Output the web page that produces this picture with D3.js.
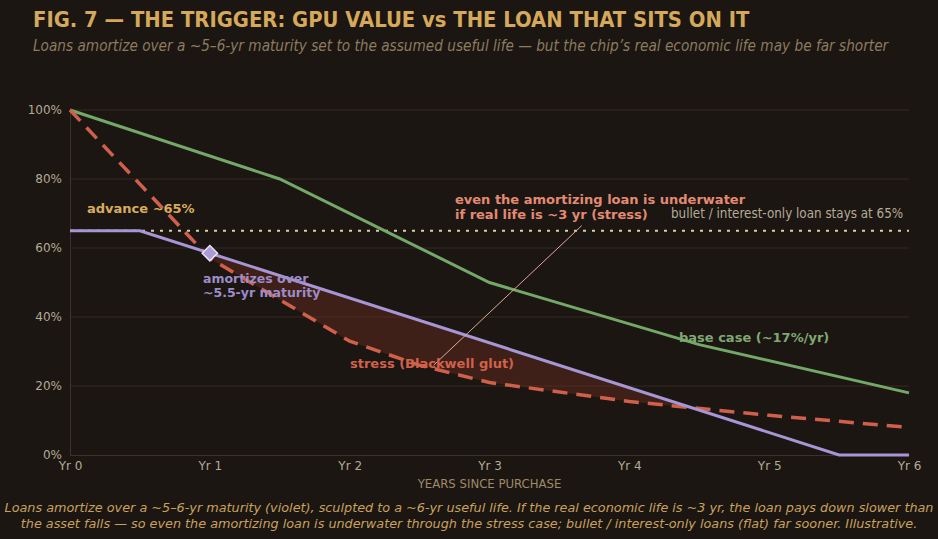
<!DOCTYPE html>
<html>
<head>
<meta charset="utf-8">
<script src="https://cdn.jsdelivr.net/npm/d3@7"></script>
<style>
  html, body { margin: 0; padding: 0; background: #1b1612; }
  svg { display: block; }
</style>
</head>
<body>
<script>
// Data (years since purchase, % of original value)
const baseYears = [0, 1.5, 3, 4.5, 6];
const baseValues = [100, 80, 50, 32, 18];

const stressYears = [0, 1, 2, 2.5, 3, 4, 5, 6];
const stressValues = [100, 57, 33, 26, 21, 15.5, 11.5, 8];

const loanYears = [0, 0.5, 5.5, 6];
const loanValues = [65, 65, 0, 0];

const advanceLevel = 65;
const markerPoint = [1, 58.5];

const xTicks = [0, 1, 2, 3, 4, 5, 6];
const xTickLabels = ["Yr 0", "Yr 1", "Yr 2", "Yr 3", "Yr 4", "Yr 5", "Yr 6"];
const yTicks = [0, 20, 40, 60, 80, 100];

// Annotation pointer (from text to the stress curve)
const pointerFrom = [3.66, 66.5];
const pointerTo = [2.6, 26];

const width = 938;
const height = 539;
const paddingTop = 110;
const paddingRight = 29;
const paddingBottom = 84;
const paddingLeft = 70;

const condensed = "'DejaVu Sans Condensed', 'DejaVu Sans', sans-serif";
const regular = "'DejaVu Sans', sans-serif";

const svg = d3.select("body").append("svg")
    .attr("width", width)
    .attr("height", height)
    .attr("viewBox", [0, 0, width, height]);

svg.append("rect").attr("width", width).attr("height", height).attr("fill", "#1b1612");

const xScale = d3.scaleLinear().domain([0, 6]).range([paddingLeft, width - paddingRight]);
const yScale = d3.scaleLinear().domain([0, 100]).range([height - paddingBottom, paddingTop]);

// Gridlines
svg.append("g")
    .selectAll("line")
    .data(yTicks.filter(d => d > 0))
    .join("line")
    .attr("x1", xScale(0)).attr("x2", xScale(6))
    .attr("y1", d => yScale(d)).attr("y2", d => yScale(d))
    .attr("stroke", "#35281f")
    .attr("stroke-width", 1);

// Axes
const xAxis = d3.axisBottom(xScale).tickValues(xTicks).tickFormat((d, i) => xTickLabels[i]).tickSize(0).tickPadding(6);
const yAxis = d3.axisLeft(yScale).tickValues(yTicks).tickFormat(d => d + "%").tickSize(0).tickPadding(8);

const xAxisRef = svg.append("g")
    .attr("transform", `translate(0, ${yScale(0)})`)
    .call(xAxis);
const yAxisRef = svg.append("g")
    .attr("transform", `translate(${xScale(0)}, 0)`)
    .call(yAxis);

[xAxisRef, yAxisRef].forEach(g => {
    g.select(".domain").attr("stroke", "#3a322b").attr("stroke-width", 1);
    g.selectAll(".tick text")
        .attr("fill", "#b5aa96")
        .style("font-family", regular)
        .style("font-size", "12px");
});

svg.append("text")
    .attr("x", xScale(3)).attr("y", 488)
    .attr("text-anchor", "middle")
    .attr("fill", "#a08a68")
    .style("font-family", condensed)
    .style("font-size", "13px")
    .text("YEARS SINCE PURCHASE");

// Series as point arrays
const basePts = baseYears.map((y, i) => [y, baseValues[i]]);
const stressPts = stressYears.map((y, i) => [y, stressValues[i]]);
const loanPts = loanYears.map((y, i) => [y, loanValues[i]]);

const interp = (pts, x) => {
    for (let i = 1; i < pts.length; i++) {
        if (x <= pts[i][0]) {
            const t = (x - pts[i - 1][0]) / (pts[i][0] - pts[i - 1][0]);
            return pts[i - 1][1] + t * (pts[i][1] - pts[i - 1][1]);
        }
    }
    return pts[pts.length - 1][1];
};

// Shaded gap where the loan sits above the stressed value
const gapXs = Array.from(new Set([...stressYears, ...loanYears])).sort((a, b) => a - b);
const fine = [];
for (let i = 1; i < gapXs.length; i++) {
    for (let k = 0; k < 20; k++) fine.push(gapXs[i - 1] + (gapXs[i] - gapXs[i - 1]) * k / 20);
}
fine.push(6);
const area = d3.area()
    .defined(x => interp(loanPts, x) >= interp(stressPts, x))
    .x(x => xScale(x))
    .y0(x => yScale(interp(stressPts, x)))
    .y1(x => yScale(interp(loanPts, x)));
svg.append("path")
    .attr("d", area(fine))
    .attr("fill", "#6a2c22")
    .attr("opacity", 0.45);

const line = d3.line()
    .x(p => xScale(p[0]))
    .y(p => yScale(p[1]));

// Bullet / interest-only level
svg.append("line")
    .attr("x1", xScale(0)).attr("x2", xScale(6))
    .attr("y1", yScale(advanceLevel)).attr("y2", yScale(advanceLevel))
    .attr("stroke", "#d8cfa2")
    .attr("stroke-width", 2)
    .attr("stroke-dasharray", "3,6");

svg.append("path")
    .attr("d", line(basePts))
    .attr("fill", "none")
    .attr("stroke", "#74a868")
    .attr("stroke-width", 3);

svg.append("path")
    .attr("d", line(stressPts))
    .attr("fill", "none")
    .attr("stroke", "#d0604c")
    .attr("stroke-width", 3.5)
    .attr("stroke-dasharray", "15,9");

svg.append("path")
    .attr("d", line(loanPts))
    .attr("fill", "none")
    .attr("stroke", "#a796d6")
    .attr("stroke-width", 3);

svg.append("path")
    .attr("d", d3.symbol(d3.symbolDiamond2, 150)())
    .attr("transform", `translate(${xScale(markerPoint[0])}, ${yScale(markerPoint[1])})`)
    .attr("fill", "#a99cd6")
    .attr("stroke", "#e8e4f4")
    .attr("stroke-width", 1.5);

// Pointer line
svg.append("line")
    .attr("x1", xScale(pointerFrom[0])).attr("y1", yScale(pointerFrom[1]))
    .attr("x2", xScale(pointerTo[0])).attr("y2", yScale(pointerTo[1]))
    .attr("stroke", "#e0a896")
    .attr("stroke-width", 1);

// Labels
function label(x, y, lines, color, opts = {}) {
    const t = svg.append("text")
        .attr("x", x).attr("y", y)
        .attr("fill", color)
        .attr("text-anchor", opts.anchor || "start")
        .style("font-family", opts.family || regular)
        .style("font-size", (opts.size || 13) + "px")
        .style("font-weight", opts.weight || "bold")
        .style("font-style", opts.style || "normal");
    lines.forEach((s, i) => {
        t.append("tspan").attr("x", x).attr("dy", i === 0 ? 0 : (opts.lh || 15)).text(s);
    });
    return t;
}

label(87, 213, ["advance ~65%"], "#d9ac5c", {size: 13});
label(203, 283, ["amortizes over", "~5.5-yr maturity"], "#9d8cc8", {size: 12.5, lh: 14});
label(455, 204, ["even the amortizing loan is underwater", "if real life is ~3 yr (stress)"], "#e48a72", {size: 13, lh: 15});
label(671, 218, ["bullet / interest-only loan stays at 65%"], "#b5aa96", {size: 13.3, weight: "normal", family: condensed});
label(679, 342, ["base case (~17%/yr)"], "#7fa872", {size: 13});
label(350, 368, ["stress (Blackwell glut)"], "#d2604a", {size: 13});

// Title block
label(33, 27, ["FIG. 7  — THE TRIGGER: GPU VALUE vs THE LOAN THAT SITS ON IT"], "#d6a85a", {size: 21.8, family: condensed});
label(33, 51, ["Loans amortize over a ~5–6-yr maturity set to the assumed useful life — but the chip’s real economic life may be far shorter"],
    "#8c7b5e", {size: 15.2, weight: "normal", style: "italic", family: condensed});

// Footer
label(469, 512, ["Loans amortize over a ~5–6-yr maturity (violet), sculpted to a ~6-yr useful life. If the real economic life is ~3 yr, the loan pays down slower than",
    "the asset falls — so even the amortizing loan is underwater through the stress case; bullet / interest-only loans (flat) far sooner. Illustrative."],
    "#c9a15e", {size: 12.8, weight: "normal", style: "italic", anchor: "middle", lh: 16});
</script>
</body>
</html>
